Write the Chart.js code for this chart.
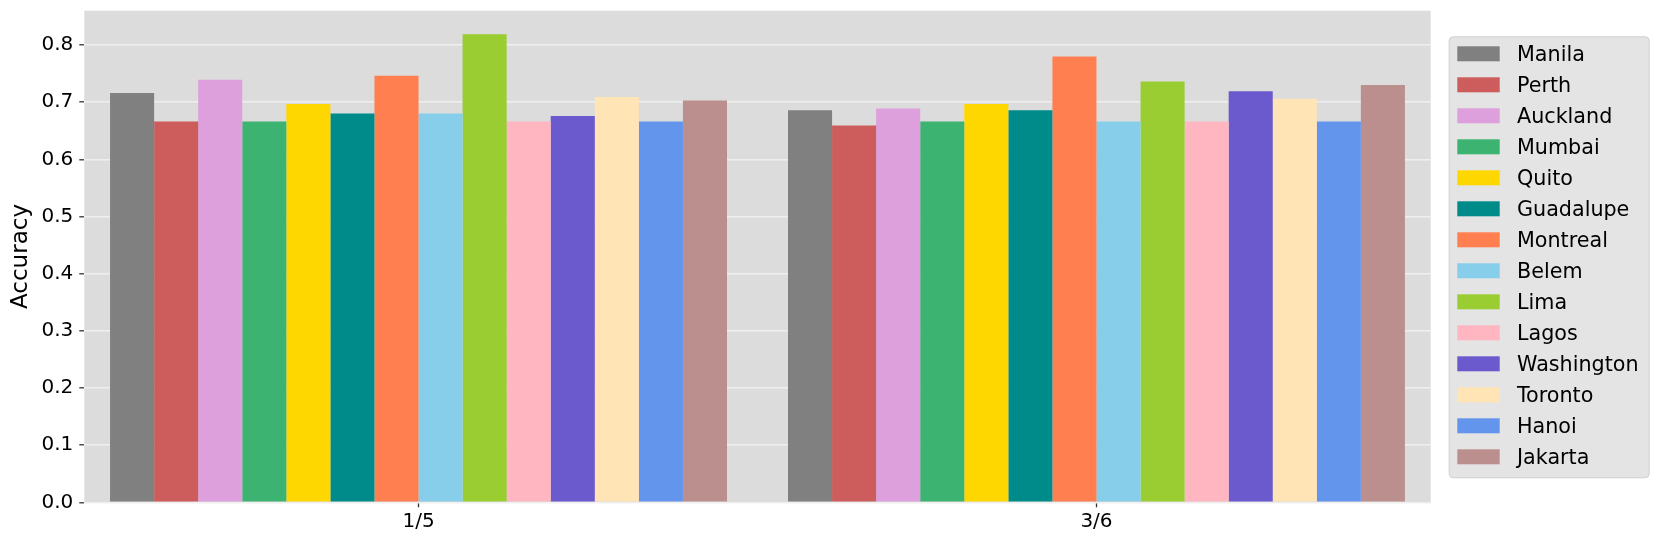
<!DOCTYPE html>
<html>
<head>
<meta charset="utf-8">
<script src="https://cdn.jsdelivr.net/npm/chart.js@4.4.1/dist/chart.umd.min.js"></script>
<style>
  html, body { margin: 0; padding: 0; background: #fff; }
</style>
</head>
<body>
<canvas id="bar-chart" width="1660" height="545"></canvas>
<script>
// #region Data
// ---------------------------------------
const groups = ["1/5", "3/6"];
const cities = ["Manila", "Perth", "Auckland", "Mumbai", "Quito", "Guadalupe", "Montreal",
  "Belem", "Lima", "Lagos", "Washington", "Toronto", "Hanoi", "Jakarta"];
const cityColors = ["#808080", "#CD5C5C", "#DDA0DD", "#3CB371", "#FFD700", "#008B8B", "#FF7F50",
  "#87CEEB", "#9ACD32", "#FFB6C1", "#6A5ACD", "#FFE4B5", "#6495ED", "#BC8F8F"];
const acc15 = [0.716, 0.666, 0.739, 0.666, 0.697, 0.680, 0.746, 0.680, 0.819, 0.666, 0.676, 0.709, 0.666, 0.703];
const acc36 = [0.686, 0.659, 0.689, 0.666, 0.697, 0.686, 0.780, 0.666, 0.736, 0.666, 0.719, 0.706, 0.666, 0.730];
const yMax = 0.86;
const yStep = 0.1;
const xLimits = [-0.493, 1.493];
// ---------------------------------------
// #endregion

const FONT = "'DejaVu Sans', sans-serif";

// grey plot background, drawn under the grid
const plotBackground = {
  id: "plotBackground",
  beforeDraw: (chart) => {
    const { ctx, chartArea: a } = chart;
    ctx.save();
    ctx.fillStyle = "#dcdcdc";
    ctx.fillRect(a.left, a.top, a.right - a.left, a.bottom - a.top);
    ctx.restore();
  },
};

// matplotlib-like legend box on the right
const boxLegend = {
  id: "boxLegend",
  afterDraw: (chart) => {
    const { ctx, chartArea: a } = chart;
    const x = a.right + 18;
    const y = a.top + 25.6;
    const w = 200;
    const h = 441;
    ctx.save();
    ctx.beginPath();
    ctx.roundRect(x + 0.5, y + 0.5, w, h, 4);
    ctx.fillStyle = "#e4e4e4";
    ctx.fill();
    ctx.strokeStyle = "#cfcfcf";
    ctx.lineWidth = 1;
    ctx.stroke();
    ctx.font = "20.7px " + FONT;
    ctx.textBaseline = "alphabetic";
    chart.data.datasets.forEach((ds, i) => {
      const cy = y + 17.5 + i * 31;
      ctx.fillStyle = ds.backgroundColor;
      ctx.fillRect(x + 8.6, cy - 7.5, 42.4, 15);
      ctx.fillStyle = "#000";
      ctx.fillText(ds.label, x + 68.3, cy + 7.6);
    });
    ctx.restore();
  },
};

const datasets = cities.map((city, i) => ({
  label: city,
  data: [{ x: 0, y: acc15[i] }, { x: 1, y: acc36[i] }],
  backgroundColor: cityColors[i],
  borderWidth: 0,
}));

new Chart(document.getElementById("bar-chart"), {
  type: "bar",
  data: { datasets: datasets },
  plugins: [plotBackground, boxLegend],
  options: {
    responsive: false,
    animation: false,
    devicePixelRatio: 1,
    layout: { padding: { top: 10.7, right: 229.3, left: 0, bottom: 0 } },
    datasets: { bar: { categoryPercentage: 0.91, barPercentage: 1.0 } },
    plugins: {
      legend: { display: false },
      tooltip: { enabled: false },
    },
    scales: {
      x: {
        type: "linear",
        offset: false,
        min: xLimits[0],
        max: xLimits[1],
        afterBuildTicks: (scale) => {
          scale.ticks = groups.map((g, i) => ({ value: i }));
        },
        grid: { display: true, offset: false, drawOnChartArea: false, tickLength: 5, tickColor: "#333", tickWidth: 1.3 },
        border: { display: false },
        ticks: {
          font: { family: FONT, size: 20 },
          color: "#000",
          padding: 2,
          callback: (v) => groups[v] ?? "",
        },
        afterFit: (scale) => {
          scale.height = 42.7;
          scale.paddingLeft = 0;
          scale.paddingRight = 0;
        },
      },
      y: {
        min: 0,
        max: yMax,
        grid: { color: "#efefef", lineWidth: 1.6, tickLength: 5, tickColor: "#333", tickWidth: 1.3 },
        border: { display: false },
        ticks: {
          stepSize: yStep,
          includeBounds: false,
          font: { family: FONT, size: 20 },
          color: "#000",
          padding: 6,
          callback: (v) => v.toFixed(1),
        },
        title: { display: true, text: "Accuracy", font: { family: FONT, size: 23 }, color: "#000", padding: { top: 7, bottom: 0 } },
        afterFit: (scale) => {
          scale.width = 84.3;
          scale.paddingTop = 0;
          scale.paddingBottom = 0;
        },
      },
    },
  },
});
</script>
</body>
</html>
